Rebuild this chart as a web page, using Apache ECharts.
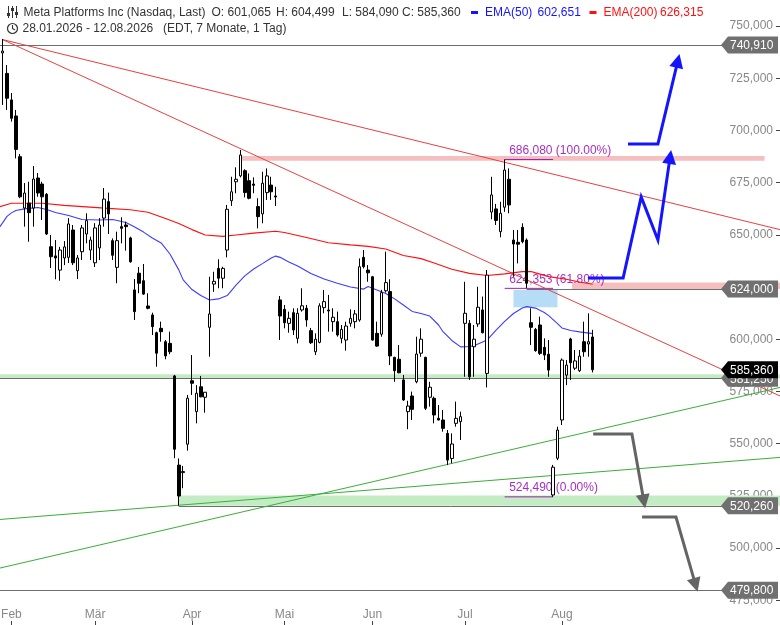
<!DOCTYPE html>
<html><head><meta charset="utf-8">
<script src="https://cdn.jsdelivr.net/npm/echarts@6/dist/echarts.min.js"></script>
<style>html,body{margin:0;padding:0;background:#fff}#c{width:780px;height:625px}</style>
</head><body><div id="c"></div>
<script>
// ---------- DATA ----------
const openP = [673.85,737.1,727.3,714.6,706.9,687.4,662.8,665.2,662.8,677.2,674.3,669.4,644.3,639.9,633.1,638.9,639.2,652.3,632.8,641.9,
650.4,642.7,636.6,643.7,658.0,665.9,647.2,634.4,653.9,654.7,648.5,623.6,631.6,628.0,615.9,611.6,603.1,605.2,598.8,598.0,
582.4,539.7,536.1,549.7,580.1,565.3,577.2,572.2,605.7,626.4,633.9,629.2,642.7,666.3,675.4,678.2,680.7,675.9,674.3,663.5,
660.0,670.2,673.8,668.6,618.8,614.3,607.6,612.7,600.4,614.0,614.8,604.1,594.0,598.5,615.1,614.0,608.4,608.4,600.4,599.6,
607.6,608.4,609.2,639.2,633.1,629.9,602.8,602.4,623.2,622.8,591.3,590.4,580.5,565.3,572.8,579.6,593.3,591.3,572.2,571.7,
562.1,561.3,554.9,542.9,559.7,560.5,607.6,607.6,596.4,607.3,614.0,583.6,660.9,662.4,651.5,663.2,676.6,647.5,646.4,653.6,
647.5,607.9,604.7,606.8,596.1,592.8,525.4,543.0,561.3,582.8,600.1,586.1,584.9,598.8,597.7,601.065];
const closeP = [668.1,738.0,715.4,705.8,690.9,668.2,670.0,660.6,676.7,670.0,668.2,650.4,639.5,638.9,642.7,644.2,655.2,636.6,638.9,653.3,
656.8,647.5,653.3,654.7,667.1,660.0,640.2,647.2,653.1,653.9,637.1,613.2,626.8,621.6,614.8,606.0,593.3,603.6,592.0,594.0,
547.3,524.9,536.6,571.7,578.9,574.1,572.4,574.6,612.1,627.7,629.2,633.9,662.2,670.6,676.6,688.2,670.2,667.5,673.7,658.7,
674.7,678.2,670.6,668.1,611.1,607.9,610.0,604.4,612.4,616.0,609.2,598.3,600.0,616.0,618.0,613.5,610.5,602.0,604.7,606.3,
610.0,612.1,634.7,634.7,631.8,599.6,596.7,622.3,627.1,592.0,584.9,583.9,570.9,568.0,566.4,592.9,600.0,566.9,577.0,563.7,
561.3,557.3,542.1,549.8,562.1,562.9,612.4,582.0,600.0,615.3,603.1,630.7,669.1,656.9,660.3,681.0,664.3,645.6,645.5,646.7,
626.8,605.7,594.5,593.2,592.4,585.2,538.7,556.5,590.0,587.6,588.7,589.6,591.9,594.0,598.8,585.36];
const lowP = [666.7,712.2,709.8,704.2,686.6,667.5,653.9,646.7,653.9,668.2,657.1,649.9,634.1,628.7,628.0,635.5,636.5,635.5,628.8,637.9,
645.9,637.9,634.6,637.9,653.9,650.4,637.9,626.8,645.9,642.4,636.6,609.2,622.0,621.2,614.3,602.0,586.8,598.8,590.4,592.8,
543.0,520.26,528.6,546.6,573.3,559.7,572.2,564.8,591.6,622.7,624.4,624.4,639.2,663.8,669.9,677.5,667.9,667.0,669.9,653.1,
655.5,666.7,666.7,663.8,599.6,605.2,603.1,602.0,598.0,613.2,606.0,597.7,592.4,598.0,612.4,603.6,603.6,601.2,598.0,594.5,
606.0,605.2,608.4,633.9,627.5,599.3,596.4,601.2,622.3,587.6,579.6,583.7,570.5,556.9,561.3,578.9,591.6,566.1,567.7,559.7,
561.1,555.7,539.7,540.6,558.1,551.7,582.0,580.5,582.0,605.9,602.8,576.9,657.4,654.7,648.8,661.0,660.3,629.9,636.3,645.9,
624.4,597.2,594.0,592.4,590.0,582.0,524.49,542.1,558.9,578.0,580.5,585.2,584.3,591.6,591.6,584.09];
const highP = [675.3,743.8,731.3,717.9,709.8,688.7,674.8,675.4,682.9,679.6,675.4,670.0,649.9,647.5,644.2,647.0,658.0,654.7,640.3,654.7,
660.3,649.1,655.6,658.0,672.4,670.2,648.3,651.5,658.4,656.3,649.1,628.8,634.6,636.0,622.0,612.7,603.6,608.4,599.6,603.6,
582.9,542.9,539.3,573.3,592.4,578.0,582.4,574.7,629.9,632.3,638.3,634.7,664.3,677.8,682.3,690.6,681.4,679.4,677.5,667.5,
680.2,681.8,677.8,673.0,620.7,616.4,613.2,614.8,614.8,624.4,616.4,605.4,602.8,617.2,623.6,621.2,614.8,613.2,606.8,608.4,
614.3,614.0,638.7,642.7,635.5,630.3,608.4,623.6,641.9,628.7,591.6,597.2,582.9,570.5,574.9,601.2,605.2,591.6,579.6,572.5,
568.5,566.1,556.5,554.9,570.1,565.3,627.5,609.2,606.8,625.1,620.4,633.1,677.8,664.8,665.8,686.08,681.8,652.3,652.3,655.5,
648.3,614.8,605.4,610.8,600.4,599.6,539.8,558.1,590.8,590.0,600.7,594.8,594.8,608.4,612.4,604.499];

// EMA values: [trading-day index, value]
const ema50 = [[0,652.8],[1,655.7],[2,658.8],[3,660.5],[4,661.6],[6,662.4],[9,663.1],[11,662.1],[13,660.7],[16,659.2],[19,657.3],
[23,657.1],[26,657.3],[29,655.9],[31,653.7],[33,651.3],[35,648.5],[37,646.1],[39,640.8],[41,633.2],[42,628.4],[44,623.8],[46,620.9],
[48,618.8],[50,619.3],[52,620.9],[54,625.9],[56,630.3],[58,633.6],[60,636.2],[62,638.9],[63,639.8],[64,639.2],[66,637.0],[68,635.1],
[71,631.5],[74,628.8],[77,626.8],[80,625.0],[83,624.0],[84,625.2],[86,623.6],[88,621.9],[90,619.3],[92,616.4],[94,613.3],[96,612.3],
[98,611.1],[100,606.8],[101,603.6],[103,599.4],[105,596.3],[107,596.5],[108,596.9],[110,598.7],[111,599.6],[113,604.2],[115,608.5],
[117,612.3],[119,614.9],[120,615.6],[122,614.9],[124,612.8],[125,611.3],[127,607.5],[128,605.4],[130,604.2],[132,603.5],[135,602.651]];
const ema200 = [[0,663.3],[3,665.1],[10,665.1],[15,664.1],[25,662.7],[30,662.0],[34,660.8],[38,657.8],[41,655.4],[44,652.5],[47,649.9],
[51,649.2],[54,649.9],[58,650.8],[63,651.7],[65,651.1],[70,648.7],[75,646.2],[80,645.2],[84,644.5],[88,643.2],[92,640.1],[96,638.6],
[99,636.5],[103,633.5],[107,631.5],[111,630.5],[115,631.3],[119,632.4],[121,632.4],[122,631.8],[125,630.0],[129,628.7],[132,627.4],[135,626.315]];

const monthIdx = [3,22,44,65,85,106,128];
const monthLabels = ['Feb','Mär','Apr','Mai','Jun','Jul','Aug'];
const yTicks = [475,500,525,550,575,600,625,650,675,700,725,750];

const redTrend1 = [[1,743.5],[180,651.2]];
const redTrend2 = [[1,743.5],[180,570.4]];
const greenTrend1 = [[0,513.6],[180,543.8]];
const greenTrend2 = [[0,490.2],[180,578.1]];

const pinkBands = [[55,174,685.5,687.7],[130.3,177.5,624.0,627.2]];
const greenBands = [[0.4,177.5,581.25,583.2],[41,177.5,520.26,525.2]];
const fibZone = [[117,127,615.3,623.6]];
const levelLines = [[0.4,740.91],[120,624.0],[0.4,581.25],[41,520.26],[0.4,479.8]];
const grayTags = [740.91,624.0,581.25,520.26,479.8];
const priceTag = [585.36];

const fibStart = 115, fibEnd = 126;
const fibLevels = [686.08,624.353,524.49];
const fibPct = ['100.00%','61.80%','0.00%'];

const blueArrow1 = [[133.9,629.3],[141.9,629.3],[146.0,668.1],[149.8,647.5],[152.8,690.6]];
const blueArrow2 = [[143.0,693.5],[149.8,693.5],[154.7,736.6]];
const grayArrow1 = [[135.1,554.6],[143.9,554.6],[146.9,519.0]];
const grayArrow2 = [[146.2,514.8],[153.9,514.8],[158.8,479.1]];

// ---------- CHART ----------
const FF = '"Liberation Sans", Arial, sans-serif';
const fmt = v => v.toFixed(3).replace('.', ',');
const candles = openP.map((o,i)=>[i,o,closeP[i],lowP[i],highP[i]]);
const last = openP.length-1;

function bandSeries(arr, color, z){
  return {type:'custom', z, silent:true, clip:true, data:arr,
    renderItem:(p,api)=>{
      const a=api.coord([api.value(0),api.value(2)]), b=api.coord([api.value(1),api.value(3)]);
      return {type:'rect', shape:{x:a[0],y:b[1],width:b[0]-a[0],height:a[1]-b[1]}, style:{fill:color}};
    }};
}
function arrowSeries(pts,color){
  return {type:'custom', z:6, silent:true, clip:false, data:[[pts[0][0],pts[0][1]]],
    renderItem:(p,api)=>{
      const q=pts.map(t=>api.coord(t)); const n=q.length, tip=q[n-1], pr=q[n-2];
      const dx=tip[0]-pr[0], dy=tip[1]-pr[1], L=Math.hypot(dx,dy), ux=dx/L, uy=dy/L;
      const hl=14, hw=7; const base=[tip[0]-ux*hl, tip[1]-uy*hl];
      const line=q.slice(0,n-1).concat([[tip[0]-ux*(hl-2), tip[1]-uy*(hl-2)]]);
      return {type:'group', children:[
        {type:'polyline', shape:{points:line}, style:{stroke:color, lineWidth:3, fill:null, lineJoin:'miter'}},
        {type:'polygon', shape:{points:[tip,[base[0]-uy*hw,base[1]+ux*hw],[base[0]+uy*hw,base[1]-ux*hw]]}, style:{fill:color}}
      ]};
    }};
}
function tagSeries(vals,bg){
  return {type:'custom', z:10, silent:true, clip:false, data:vals.map(v=>[1,v]),
    renderItem:(p,api)=>{
      const v=api.value(1); const y=api.coord([1,v])[1]; const cs=p.coordSys; const r=cs.x+cs.width;
      return {type:'group', children:[
        {type:'polygon', shape:{points:[[r-59,y],[r-52,y-8.5],[r-2,y-8.5],[r-2,y+8.5],[r-52,y+8.5]]}, style:{fill:bg}},
        {type:'text', style:{text:fmt(v), x:r-50, y:y+1, verticalAlign:'middle', align:'left', fill:'#fff', font:'12px '+FF}}
      ]};
    }};
}
function trendSeries(d,color){
  return {type:'line', z:3, data:d, symbol:'none', silent:true, clip:true, lineStyle:{color, width:1}};
}

const series = [
  bandSeries(pinkBands,'#f6bfbf',1),
  bandSeries(greenBands,'#c4ecc4',1),
  bandSeries(fibZone,'#b6dcf6',1),
  {type:'custom', z:1.5, silent:true, clip:false, data:levelLines,
    renderItem:(p,api)=>{
      const a=api.coord([api.value(0),api.value(1)]); const r=p.coordSys.x+p.coordSys.width-58;
      return {type:'line', shape:{x1:a[0],y1:Math.round(a[1])+0.5,x2:r,y2:Math.round(a[1])+0.5}, style:{stroke:'#6e6e6e', lineWidth:1}};
    }},
  {type:'custom', z:2, silent:true, clip:false, data:fibLevels.map((v,k)=>[k,v]),
    renderItem:(p,api)=>{
      const k=api.value(0), v=api.value(1);
      const a=api.coord([fibStart,v]), b=api.coord([fibEnd,v]);
      return {type:'group', children:[
        {type:'line', shape:{x1:a[0],y1:a[1],x2:b[0],y2:b[1]}, style:{stroke:'#9c1fae', lineWidth:1}},
        {type:'text', style:{text:fmt(v)+' ('+fibPct[k]+')', x:a[0]+4.5, y:a[1]-9, verticalAlign:'middle', fill:'#a62fc2', font:'12px '+FF}}
      ]};
    }},
  trendSeries(redTrend1,'#e64040'),
  trendSeries(redTrend2,'#e64040'),
  trendSeries(greenTrend1,'#3aae3a'),
  trendSeries(greenTrend2,'#3aae3a'),
  {type:'line', z:3, data:ema200, symbol:'none', silent:true, lineStyle:{color:'#ff1010', width:1.2}},
  {type:'line', z:3, data:ema50, symbol:'none', silent:true, lineStyle:{color:'#3b3bff', width:1.1}},
  {type:'candlestick', z:4, data:candles, encode:{x:0,y:[1,2,3,4]}, barWidth:3, silent:true,
    itemStyle:{color:'#ffffff', color0:'#000000', borderColor:'#000000', borderColor0:'#000000', borderColorDoji:'#000000', borderWidth:1}},
  arrowSeries(blueArrow1,'#1414ff'),
  arrowSeries(blueArrow2,'#1414ff'),
  arrowSeries(grayArrow1,'#646464'),
  arrowSeries(grayArrow2,'#646464'),
  tagSeries(grayTags,'#707070'),
  tagSeries(priceTag,'#000000')
];

function txt(x,y,t,c){return {type:'text', x, y, z:100, style:{text:t, fill:c||'#333', font:'12px '+FF, verticalAlign:'middle'}};}
const graphic = [
  {type:'rect', z:100, shape:{x:8,y:6,width:1,height:12}, style:{fill:'#333'}},
  {type:'rect', z:100, shape:{x:12,y:6,width:1,height:12}, style:{fill:'#333'}},
  {type:'rect', z:100, shape:{x:16,y:6,width:1,height:12}, style:{fill:'#333'}},
  {type:'rect', z:100, shape:{x:7,y:13,width:3,height:3}, style:{fill:'#333'}},
  {type:'rect', z:100, shape:{x:11,y:8,width:3,height:3}, style:{fill:'#333'}},
  {type:'rect', z:100, shape:{x:15,y:12,width:3,height:3}, style:{fill:'#333'}},
  txt(23.5,12.5,'Meta Platforms Inc (Nasdaq, Last)'),
  txt(211.5,12.5,'O: '+fmt(openP[last])),
  txt(276,12.5,'H: '+fmt(highP[last])),
  txt(342,12.5,'L: '+fmt(lowP[last])),
  txt(402,12.5,'C: '+fmt(closeP[last])),
  {type:'rect', z:100, shape:{x:471,y:11,width:7,height:3}, style:{fill:'#1414ff'}},
  txt(485,12.5,'EMA(50)','#1414ff'),
  txt(537.5,12.5,fmt(ema50[ema50.length-1][1]),'#1414ff'),
  {type:'rect', z:100, shape:{x:589.5,y:11,width:7,height:3}, style:{fill:'#ff1010'}},
  txt(603.5,12.5,'EMA(200)','#ff1010'),
  txt(660,12.5,fmt(ema200[ema200.length-1][1]),'#ff1010'),
  {type:'circle', z:100, shape:{cx:12.5,cy:28.5,r:5}, style:{fill:null, stroke:'#333', lineWidth:1.2}},
  {type:'polyline', z:100, shape:{points:[[12.5,25],[12.5,28.5],[15,30]]}, style:{fill:null, stroke:'#333', lineWidth:1.1}},
  txt(22.5,28.5,'28.01.2026 - 12.08.2026'),
  txt(163,28.5,'(EDT, 7 Monate, 1 Tag)')
];

const chart = echarts.init(document.getElementById('c'), null, {renderer:'canvas'});
chart.setOption({
  animation:false,
  backgroundColor:'#ffffff',
  grid:{left:0,right:0,top:0,bottom:0, outerBoundsMode:'none', containLabel:false},
  xAxis:{type:'value', min:0.409, max:177.52, axisLine:{show:false}, splitLine:{show:false},
    axisTick:{show:true, inside:true, length:4, customValues:monthIdx, lineStyle:{color:'#444'}},
    axisLabel:{show:true, inside:true, margin:4, customValues:monthIdx, color:'#888', fontSize:12, fontFamily:FF,
      formatter:v=>monthLabels[monthIdx.indexOf(Math.round(v))]||''}},
  yAxis:{type:'value', position:'right', min:463.121, max:762.452, axisLine:{show:false}, splitLine:{show:false},
    axisTick:{show:true, inside:true, length:4, customValues:yTicks, lineStyle:{color:'#444'}},
    axisLabel:{show:true, inside:true, margin:7, padding:[3,0,0,0], customValues:yTicks, color:'#888', fontSize:12, fontFamily:FF,
      formatter:v=>fmt(v)}},
  graphic:graphic,
  series:series
});
</script></body></html>
